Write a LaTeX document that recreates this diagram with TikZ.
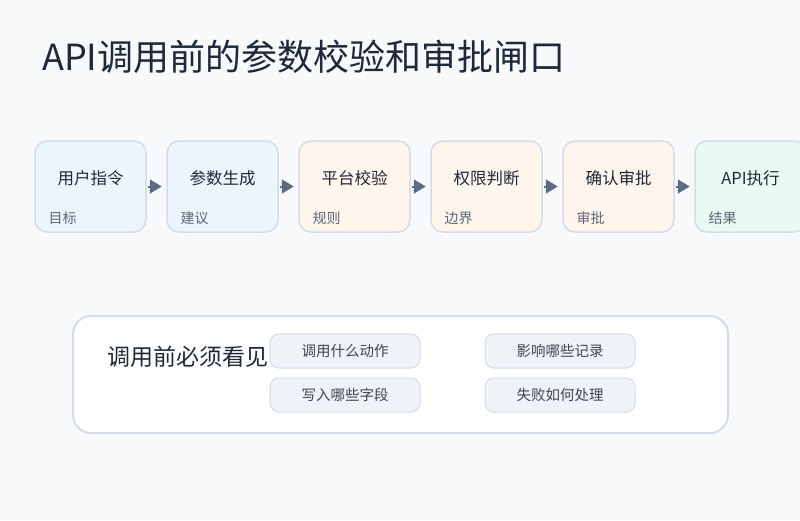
\documentclass[tikz,border=0pt]{standalone}
\usepackage{fontspec}
\setmainfont{Noto Sans CJK SC}
\usetikzlibrary{arrows.meta}
\definecolor{bg}{HTML}{F7F9FB}
\definecolor{titlec}{HTML}{1E293B}
\definecolor{boxline}{HTML}{D3DCE8}
\definecolor{bluef}{HTML}{EAF5FE}
\definecolor{orangef}{HTML}{FEF5EC}
\definecolor{greenf}{HTML}{EBFBF3}
\definecolor{labelc}{HTML}{1F2937}
\definecolor{subc}{HTML}{5B6677}
\definecolor{arrowc}{HTML}{5B6B82}
\definecolor{chipf}{HTML}{EFF2F7}
\definecolor{chipline}{HTML}{D5DCE6}
\definecolor{chipt}{HTML}{3A4556}
\tikzset{
  stepbox/.style={draw=boxline, line width=1.5pt, rounded corners=12pt, minimum width=111pt, minimum height=91pt, inner sep=0pt},
  steplabel/.style={font=\fontsize{16.5pt}{18pt}\selectfont, text=labelc, inner sep=0pt},
  stepsub/.style={font=\fontsize{14pt}{16pt}\selectfont, text=subc, inner sep=0pt, anchor=west},
  flowarrow/.style={draw=arrowc, line width=2pt, -{Triangle[length=12pt,width=14pt]}, fill=arrowc},
  chip/.style={draw=chipline, fill=chipf, line width=1pt, rounded corners=9pt, minimum width=150pt, minimum height=34pt, inner sep=0pt, text=chipt, font=\fontsize{14.5pt}{16pt}\selectfont},
}
\begin{document}
\begin{tikzpicture}[x=1pt,y=-1pt]
\path[fill=bg] (0,0) rectangle (800,520);
\useasboundingbox (0,0) rectangle (800,520);
\begin{scope}
\clip (0,0) rectangle (800,520);
\node[anchor=west, inner sep=0pt, text=titlec, font=\fontsize{36pt}{40pt}\selectfont] (title) at (42,57) {API调用前的参数校验和审批闸口};

\node[stepbox, fill=bluef] (b1) at (90.5,186.5) {};
\node[stepbox, fill=bluef] (b2) at (222.5,186.5) {};
\node[stepbox, fill=orangef] (b3) at (354.5,186.5) {};
\node[stepbox, fill=orangef] (b4) at (486.5,186.5) {};
\node[stepbox, fill=orangef] (b5) at (618.5,186.5) {};
\node[stepbox, fill=greenf] (b6) at (750.5,186.5) {};

\node[steplabel] (l1) at (90.5,178) {用户指令};
\node[steplabel] (l2) at (222.5,178) {参数生成};
\node[steplabel] (l3) at (354.5,178) {平台校验};
\node[steplabel] (l4) at (486.5,178) {权限判断};
\node[steplabel] (l5) at (618.5,178) {确认审批};
\node[steplabel] (l6) at (750.5,178) {API执行};

\node[stepsub] (s1) at (48.5,218.5) {目标};
\node[stepsub] (s2) at (180.5,218.5) {建议};
\node[stepsub] (s3) at (312.5,218.5) {规则};
\node[stepsub] (s4) at (444.5,218.5) {边界};
\node[stepsub] (s5) at (576.5,218.5) {审批};
\node[stepsub] (s6) at (708.5,218.5) {结果};

\foreach \a/\b in {b1/b2,b2/b3,b3/b4,b4/b5,b5/b6}{
  \coordinate (e\a) at ([xshift=15pt]\a.east);
  \draw[flowarrow] ([xshift=1pt]\a.east) -- (e\a);
}

\node[draw=boxline, fill=white, line width=2pt, rounded corners=18pt, minimum width=655pt, minimum height=117pt, inner sep=0pt] (panel) at (400.5,374.5) {};
\node[anchor=west, inner sep=0pt, text=labelc, font=\fontsize{23pt}{26pt}\selectfont] (ph) at (107,357) {调用前必须看见};
\node[chip] (c1) at (345,351) {\raisebox{-1pt}{调用什么动作}};
\node[chip] (c2) at (345,395) {\raisebox{-1pt}{写入哪些字段}};
\node[chip] (c3) at (560,351) {\raisebox{-1pt}{影响哪些记录}};
\node[chip] (c4) at (560,395) {\raisebox{-1pt}{失败如何处理}};
\end{scope}
\end{tikzpicture}
\end{document}
